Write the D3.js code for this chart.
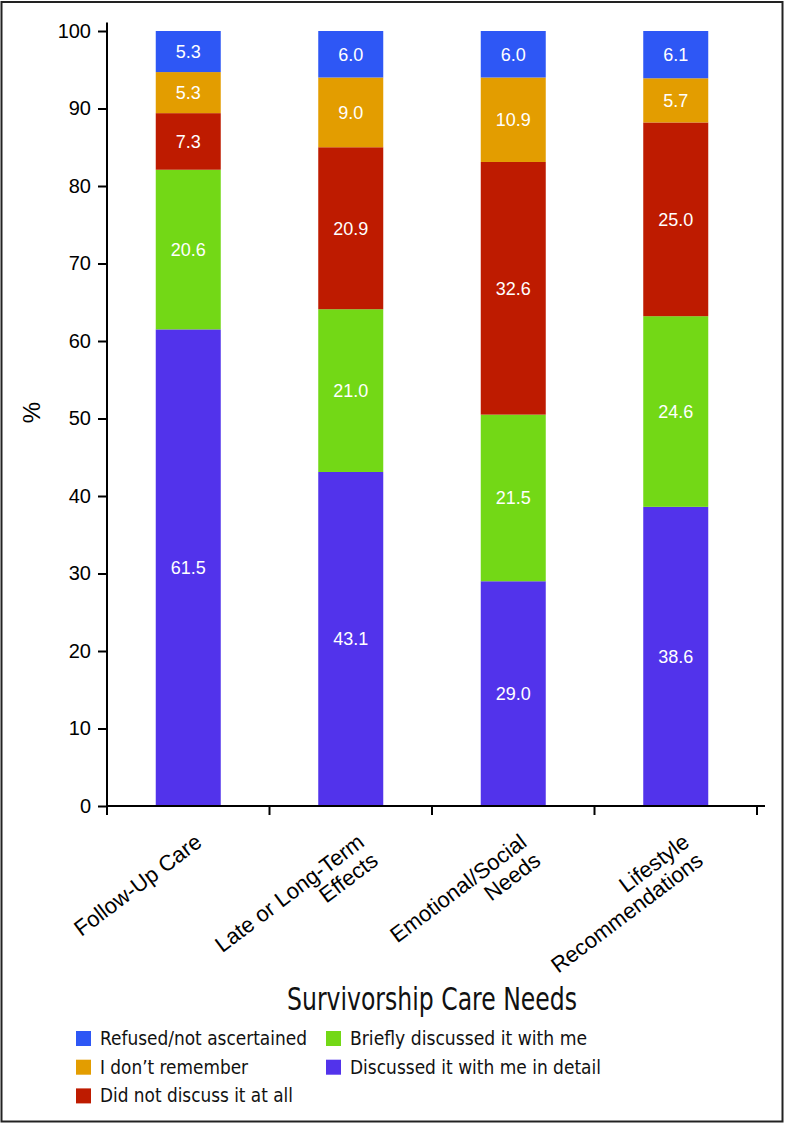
<!DOCTYPE html>
<html>
<head>
<meta charset="utf-8">
<script src="https://cdn.jsdelivr.net/npm/d3@7"></script>
<style>
  html, body { margin: 0; padding: 0; background: #fff; }
  svg { display: block; }
</style>
</head>
<body>
<svg id="chart" width="786" height="1123"></svg>
<script>
// ---- data ----
const categories = [
  ["Follow-Up Care"],
  ["Late or Long-Term", "Effects"],
  ["Emotional/Social", "Needs"],
  ["Lifestyle", "Recommendations"]
];
const categoryKeys = ["Follow-Up Care", "Late or Long-Term Effects", "Emotional/Social Needs", "Lifestyle Recommendations"];
const seriesNames = [
  "Discussed it with me in detail",
  "Briefly discussed it with me",
  "Did not discuss it at all",
  "I don\u2019t remember",
  "Refused/not ascertained"
];
const detailValues   = [61.5, 43.1, 29.0, 38.6];
const brieflyValues  = [20.6, 21.0, 21.5, 24.6];
const notDiscussed   = [7.3, 20.9, 32.6, 25.0];
const dontRemember   = [5.3, 9.0, 10.9, 5.7];
const refusedValues  = [5.3, 6.0, 6.0, 6.1];
const seriesColors = ["#5233EB", "#73D816", "#BE1B00", "#E39D00", "#2E57F5"];
const yTicks = [0, 10, 20, 30, 40, 50, 60, 70, 80, 90, 100];
const legendOrder = [
  ["Refused/not ascertained", "I don\u2019t remember", "Did not discuss it at all"],
  ["Briefly discussed it with me", "Discussed it with me in detail"]
];
const xTitle = "Survivorship Care Needs";
const yTitle = "%";

// ---- build table ----
const allValues = [detailValues, brieflyValues, notDiscussed, dontRemember, refusedValues];
const table = categoryKeys.map((c, i) => {
  const row = { cat: c };
  seriesNames.forEach((s, j) => row[s] = allValues[j][i]);
  return row;
});

const svg = d3.select("#chart");
const W = 786, H = 1123;
const plot = { left: 107, right: 757, top: 31, bottom: 806 };
const sans = "'Liberation Sans', Arial, Helvetica, sans-serif";
const condensed = "'Liberation Sans Narrow', 'DejaVu Sans Condensed', 'Liberation Sans', sans-serif";

// frame
svg.append("rect")
  .attr("x", 1.5).attr("y", 2).attr("width", W - 5).attr("height", H - 3.5)
  .attr("fill", "none").attr("stroke", "#222").attr("stroke-width", 2);

const x = d3.scaleBand().domain(categoryKeys)
  .range([plot.left, plot.right]).paddingInner(0.6).paddingOuter(0.3);
const y = d3.scaleLinear().domain([0, 100]).range([plot.bottom, plot.top]);
const color = d3.scaleOrdinal().domain(seriesNames).range(seriesColors);

const stacked = d3.stack().keys(seriesNames)(table);

// bars
const layers = svg.append("g").selectAll("g").data(stacked).join("g")
  .attr("fill", d => color(d.key));
layers.selectAll("rect").data(d => d).join("rect")
  .attr("x", d => x(d.data.cat))
  .attr("width", x.bandwidth())
  .attr("y", d => y(d[1]))
  .attr("height", d => y(d[0]) - y(d[1]));

// bar labels
const labelG = svg.append("g")
  .attr("font-family", sans)
  .attr("font-size", 18).attr("fill", "#fff").attr("text-anchor", "middle");
stacked.forEach(layer => {
  labelG.selectAll(null).data(layer).join("text")
    .attr("x", d => x(d.data.cat) + x.bandwidth() / 2)
    .attr("y", d => (y(d[0]) + y(d[1])) / 2)
    .attr("dy", "0.36em")
    .text(d => (d[1] - d[0]).toFixed(1));
});

// y axis
const yAxis = d3.axisLeft(y).tickValues(yTicks).tickSize(9).tickPadding(7);
const yg = svg.append("g").attr("transform", `translate(${plot.left},0)`).call(yAxis);
yg.select(".domain").remove();
yg.selectAll(".tick line").attr("stroke", "#000").attr("stroke-width", 2);
yg.selectAll(".tick text").attr("font-family", sans)
  .attr("font-size", 20).attr("fill", "#000");
svg.append("line")
  .attr("x1", plot.left).attr("x2", plot.left)
  .attr("y1", y(100) - 8.5).attr("y2", y(0) + 1)
  .attr("stroke", "#000").attr("stroke-width", 2);

// x axis
const step = x.step();
const boundaries = d3.range(categoryKeys.length + 1).map(i => plot.left + i * step);
svg.append("line")
  .attr("x1", plot.left - 1).attr("x2", plot.right + 8)
  .attr("y1", y(0)).attr("y2", y(0))
  .attr("stroke", "#000").attr("stroke-width", 2);
svg.append("g").selectAll("line").data(boundaries).join("line")
  .attr("x1", d => d).attr("x2", d => d)
  .attr("y1", y(0)).attr("y2", y(0) + 9)
  .attr("stroke", "#000").attr("stroke-width", 2);

// x category labels
const xl = svg.append("g")
  .attr("font-family", sans)
  .attr("font-size", 22).attr("fill", "#000").attr("text-anchor", "end");
categories.forEach((lines, i) => {
  const cx = x(categoryKeys[i]) + x.bandwidth() / 2;
  const g = xl.append("g").attr("transform", `translate(${cx + 15},${y(0) + 39}) rotate(-37)`);
  const t = g.append("text");
  lines.forEach((ln, k) => {
    t.append("tspan").attr("x", 0).attr("dy", k === 0 ? 0 : "1.05em").text(ln);
  });
});

// y title
svg.append("text")
  .attr("transform", `translate(40,${y(50) - 6}) rotate(-90)`)
  .attr("text-anchor", "middle")
  .attr("font-family", sans)
  .attr("font-size", 24).attr("fill", "#000")
  .text(yTitle);

// x title
svg.append("text")
  .attr("x", 432).attr("y", 1010)
  .attr("text-anchor", "middle")
  .attr("font-family", condensed)
  .attr("font-size", 32).attr("fill", "#111")
  .attr("textLength", 290).attr("lengthAdjust", "spacingAndGlyphs")
  .text(xTitle);

// legend
const legendX = [76, 326];
const legendY0 = 1031, legendStep = 28.7;
const legendWidths = {
  "Refused/not ascertained": 207,
  "I don\u2019t remember": 148,
  "Did not discuss it at all": 193,
  "Briefly discussed it with me": 237,
  "Discussed it with me in detail": 251
};
const lg = svg.append("g");
legendOrder.forEach((col, ci) => {
  col.forEach((name, ri) => {
    const gy = legendY0 + ri * legendStep;
    lg.append("rect")
      .attr("x", legendX[ci]).attr("y", gy)
      .attr("width", 15).attr("height", 15)
      .attr("fill", color(name));
    lg.append("text")
      .attr("x", legendX[ci] + 24).attr("y", gy + 14)
      .attr("font-family", condensed)
      .attr("font-size", 19).attr("fill", "#111")
      .attr("textLength", legendWidths[name]).attr("lengthAdjust", "spacingAndGlyphs")
      .text(name);
  });
});
</script>
</body>
</html>
